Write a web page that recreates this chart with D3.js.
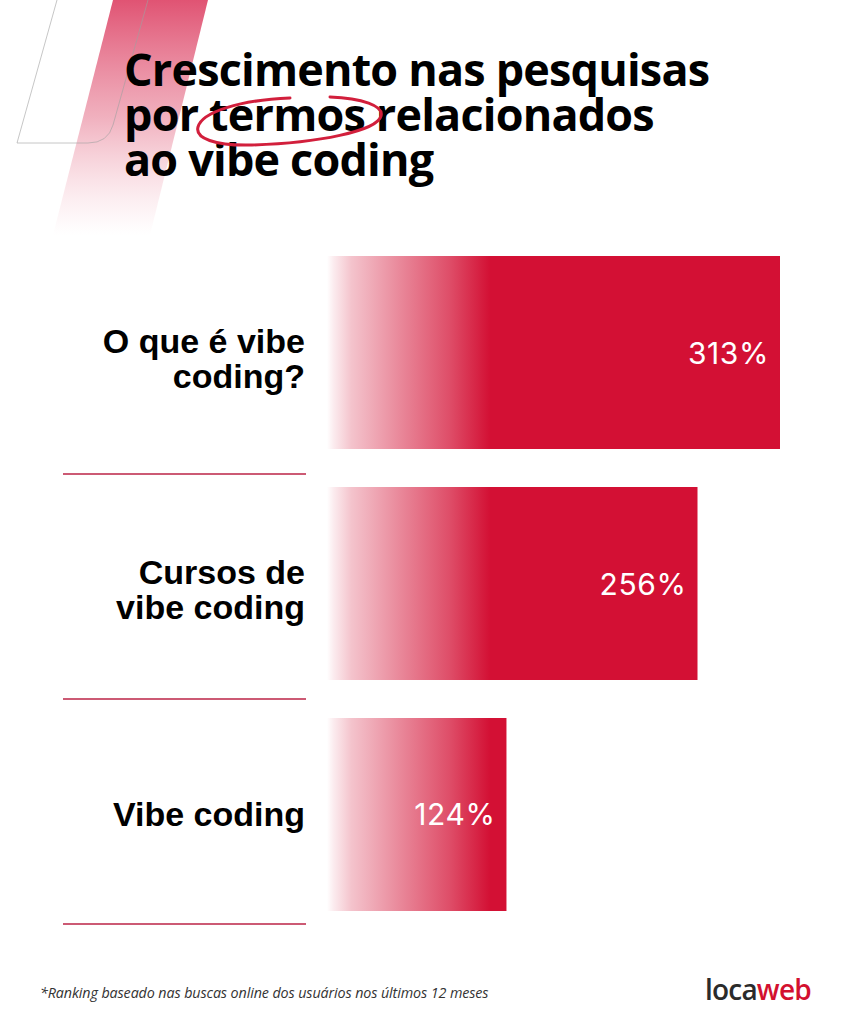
<!DOCTYPE html>
<html>
<head>
<meta charset="utf-8">
<script src="https://cdn.jsdelivr.net/npm/d3@7"></script>
<style>
  body { margin: 0; background: #fff; }
  svg { display: block; }
</style>
</head>
<body>
<div id="chart"></div>
<script>
// data
const categories = ["O que é vibe coding?", "Cursos de vibe coding", "Vibe coding"];
const labelLines = [["O que é vibe", "coding?"], ["Cursos de", "vibe coding"], ["Vibe coding"]];
const growth = [313, 256, 124];
const valueLabels = ["313%", "256%", "124%"];
const titleLines = ["Crescimento nas pesquisas", "por termos relacionados", "ao vibe coding"];
const footnote = "*Ranking baseado nas buscas online dos usuários nos últimos 12 meses";

const width = 853, height = 1024;
const red = "#d31034";

const svg = d3.select("#chart").append("svg")
    .attr("width", width).attr("height", height);

const defs = svg.append("defs");

// fade for the bars, same absolute length on every bar
const barGrad = defs.append("linearGradient")
    .attr("id", "barFade")
    .attr("gradientUnits", "userSpaceOnUse")
    .attr("x1", 327).attr("x2", 490).attr("y1", 0).attr("y2", 0);
[[0, 0], [0.04, 0.08], [0.15, 0.25], [0.45, 0.5], [0.75, 0.74], [1, 1]].forEach(s => {
    barGrad.append("stop").attr("offset", s[0]).attr("stop-color", red).attr("stop-opacity", s[1]);
});

// decorative band top left
const bandGrad = defs.append("linearGradient")
    .attr("id", "bandFade").attr("x1", 0).attr("x2", 0).attr("y1", 0).attr("y2", 1);
bandGrad.append("stop").attr("offset", 0).attr("stop-color", "#dc3c60").attr("stop-opacity", 0.88);
bandGrad.append("stop").attr("offset", 0.5).attr("stop-color", "#e2627e").attr("stop-opacity", 0.5);
bandGrad.append("stop").attr("offset", 1).attr("stop-color", "#f0a0b0").attr("stop-opacity", 0);

svg.append("path")
    .attr("d", "M113,0 L208,0 L150,235 L53,235 Z")
    .attr("fill", "url(#bandFade)");

svg.append("path")
    .attr("d", "M57,0 L17,143 L88,143 Q108,143 113,125 L148,0")
    .attr("fill", "none")
    .attr("stroke", "#a0a0a0")
    .attr("stroke-opacity", 0.6)
    .attr("stroke-width", 1);

// title
const title = svg.append("g").attr("font-family", "'Open Sans', sans-serif")
    .attr("font-weight", 700).attr("fill", "#000");
const titleText = title.selectAll("text").data(titleLines).enter().append("text")
    .attr("x", 124)
    .attr("y", (d, i) => 86 + i * 45)
    .attr("font-size", 42)
    .attr("letter-spacing", -0.8)
    .text(d => d);

// fit line one to its width in the picture
const firstLen = titleText.node().getComputedTextLength();
const fs = 42 * 584 / firstLen;
titleText.attr("font-size", fs);

// hand drawn loop round "termos"
svg.append("path")
    .attr("d", "M330,97 C362,98 384,106 381,116 C377,131 318,143 252,145 C214,146 195,138 198,127 C202,112 240,100 290,98")
    .attr("fill", "none")
    .attr("stroke", "#d21f3c")
    .attr("stroke-width", 3)
    .attr("stroke-linecap", "round");

// scales
const x = d3.scaleLinear().domain([0, 313]).range([327, 780]);
const y = d3.scaleBand().domain(categories).range([256, 911]).paddingInner(0.1645).paddingOuter(0);
const sepY = d3.scaleLinear().domain([0, categories.length - 1]).range([474, 924]);

const rows = categories.map((c, i) => ({cat: c, lines: labelLines[i], value: growth[i], label: valueLabels[i], i: i}));

// bars
svg.append("g").selectAll("rect").data(rows).enter().append("rect")
    .attr("x", x(0))
    .attr("y", d => y(d.cat))
    .attr("width", d => x(d.value) - x(0))
    .attr("height", y.bandwidth())
    .attr("fill", "url(#barFade)");

// values
svg.append("g").selectAll("text").data(rows).enter().append("text")
    .attr("x", d => x(d.value) - 11)
    .attr("y", d => y(d.cat) + y.bandwidth() / 2 + 11)
    .attr("text-anchor", "end")
    .attr("fill", "#fff")
    .attr("font-family", "Inter, sans-serif")
    .attr("font-size", 30)
    .attr("letter-spacing", 0.6)
    .text(d => d.label);

// category labels
const lab = svg.append("g").selectAll("text").data(rows).enter().append("text")
    .attr("text-anchor", "end")
    .attr("font-family", "'Liberation Sans', Arial, sans-serif")
    .attr("font-weight", 700)
    .attr("font-size", 34)
    .attr("fill", "#000");
lab.each(function(d) {
    const cy = y(d.cat) + y.bandwidth() / 2;
    const t = d3.select(this);
    const first = d.lines.length === 1 ? cy + 12 : cy;
    d.lines.forEach((l, k) => {
        t.append("tspan").attr("x", 305).attr("y", first + k * 35).text(l);
    });
});

// separators
svg.append("g").selectAll("line").data(rows).enter().append("line")
    .attr("x1", 63).attr("x2", 306)
    .attr("y1", d => sepY(d.i)).attr("y2", d => sepY(d.i))
    .attr("stroke", "#cc5a74")
    .attr("stroke-width", 2);

// footer
svg.append("text")
    .attr("x", 40).attr("y", 998)
    .attr("font-family", "'Open Sans', sans-serif")
    .attr("font-style", "italic")
    .attr("font-weight", 400)
    .attr("font-size", 14.3)
    .attr("letter-spacing", -0.1)
    .attr("fill", "#333")
    .text(footnote);

const logo = svg.append("text")
    .attr("x", 705).attr("y", 1000)
    .attr("font-family", "'Open Sans', sans-serif")
    .attr("font-weight", 600)
    .attr("font-size", 28)
    .attr("letter-spacing", -0.8);
logo.append("tspan").attr("fill", "#2b2b2b").text("loca");
logo.append("tspan").attr("fill", "#d3102f").text("web");
</script>
</body>
</html>
